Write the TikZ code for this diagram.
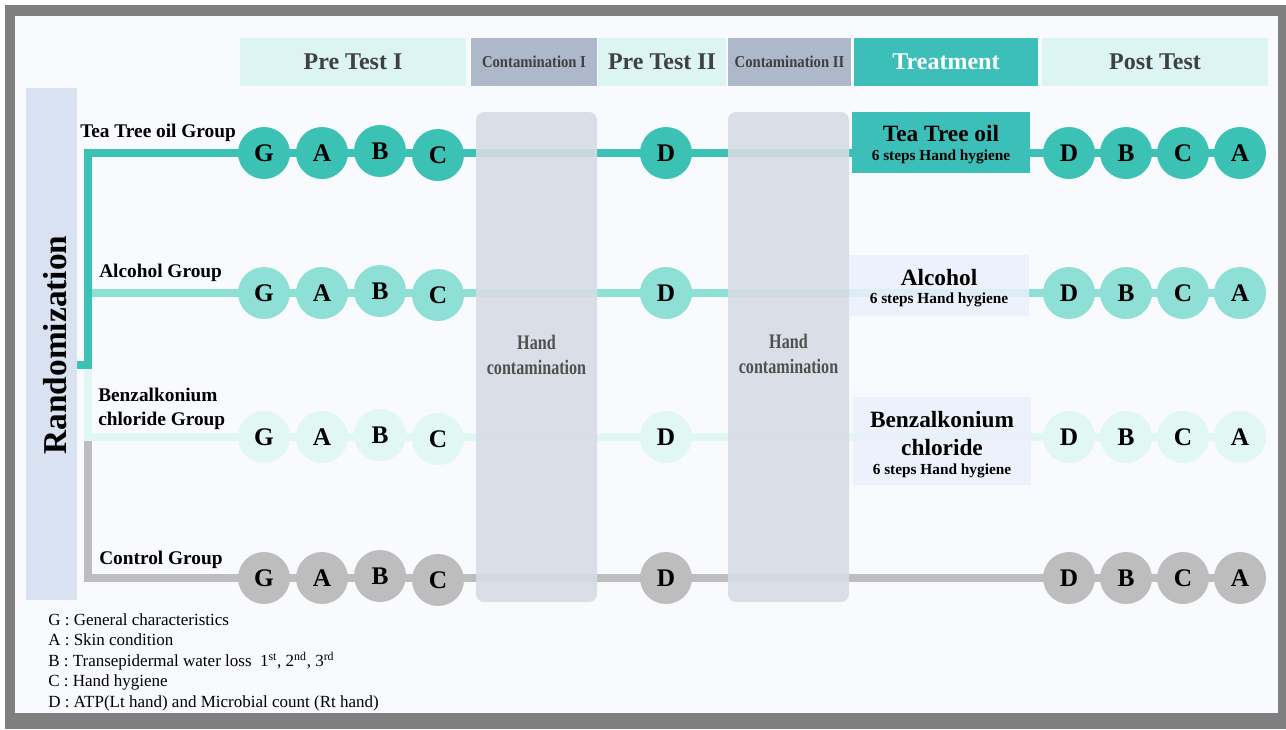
\documentclass[tikz,border=0pt]{standalone}
\usepackage{fontspec}
\setmainfont{Liberation Serif}
\usepackage{graphicx}
\pgfdeclarelayer{back}
\pgfdeclarelayer{bg}
\pgfsetlayers{back,bg,main}
\definecolor{frame}{HTML}{7F7F7F}
\definecolor{canvas}{HTML}{F9FAFD}
\definecolor{mint}{HTML}{DDF5F2}
\definecolor{contam}{HTML}{ADB9CB}
\definecolor{teal}{HTML}{3CBFB8}
\definecolor{cA}{HTML}{3CC2B5}
\definecolor{cB}{HTML}{8EDFD6}
\definecolor{cC}{HTML}{E0F7F3}
\definecolor{cD}{HTML}{BDBDBD}
\definecolor{handbox}{HTML}{D7DCE4}
\definecolor{lav}{HTML}{EAF0FB}
\definecolor{randbar}{HTML}{D9E2F1}
\definecolor{hdrtxt}{HTML}{404040}
\definecolor{handtxt}{HTML}{505050}
\newcommand{\handtext}{\scalebox{0.78}[1]{\bfseries\begin{tabular}{@{}c@{}}\bfseries Hand\\[0.5pt]\bfseries contamination\end{tabular}}}
\begin{document}
\begin{tikzpicture}[x=0.75pt,y=-0.75pt,
  wh/.style 2 args={minimum width=#1*0.75pt, minimum height=#2*0.75pt, inner sep=0pt, outer sep=0pt},
  hdr/.style={font=\fontsize{18}{20}\selectfont\bfseries, text=hdrtxt},
  circ/.style={circle, minimum size=39pt, inner sep=0pt, font=\fontsize{19}{20}\selectfont\bfseries},
  grp/.style={font=\fontsize{14.5}{18}\selectfont\bfseries, anchor=west, align=left, inner sep=0pt},
  trt/.style={font=\fontsize{17.5}{21}\selectfont\bfseries, inner sep=0pt},
  sub/.style={font=\fontsize{11.5}{13}\selectfont\bfseries, inner sep=0pt},
  hand/.style={text=handtxt, font=\fontsize{15.5}{18.5}\selectfont\bfseries, inner sep=0pt},
  lane/.style={line width=6pt, line join=miter}
]
\useasboundingbox (0,0) rectangle (1286,729);
\begin{pgfonlayer}{back}
\fill[white] (0,0) rectangle (1286,729);
\fill[frame] (5,5) rectangle (1286,729);
\fill[canvas] (15,16) rectangle (1278,713);
\end{pgfonlayer}

% header row
\node[hdr, wh={226}{48}, fill=mint] (pt1) at (353,62) {Pre Test I};
\node[wh={126}{48}, fill=contam, text=hdrtxt, font=\fontsize{12.5}{14}\selectfont\bfseries] (con1) at (534,62) {\scalebox{0.88}[1]{Contamination I}};
\node[hdr, wh={128}{48}, fill=mint] (pt2) at (662,62) {Pre Test II};
\node[wh={123}{48}, fill=contam, text=hdrtxt, font=\fontsize{12.5}{14}\selectfont\bfseries] (con2) at (789.5,62) {\scalebox{0.88}[1]{Contamination II}};
\node[hdr, wh={184}{48}, fill=teal, text=white] (trt) at (946,62) {Treatment};
\node[hdr, wh={226}{48}, fill=mint] (post) at (1155,62) {Post Test};

% randomization bar
\node[wh={51}{512}, fill=randbar] (rand) at (51.5,344) {};
\node[rotate=90, font=\fontsize{25}{28}\selectfont\bfseries, inner sep=0pt] (randtxt) at (55,345) {Randomization};

% hand contamination boxes
\node[wh={121}{490}, fill=handbox, fill opacity=0.9, text opacity=1, rounded corners=6pt] (hc1) at (536.5,357) {};
\node[hand] (hc1t) at (536.5,357) {\handtext};
\node[wh={121}{490}, fill=handbox, fill opacity=0.9, text opacity=1, rounded corners=6pt] (hc2) at (788.5,357) {};
\node[hand] (hc2t) at (788.5,356) {\handtext};

% group labels
\node[grp] (g1) at (80,133) {Tea Tree oil Group};
\node[grp] (g2) at (99,273) {Alcohol Group};
\node[grp] (g3) at (98,409) {Benzalkonium\\chloride Group};
\node[grp] (g4) at (99,560) {Control Group};

% treatment boxes
\node[wh={178}{61}, fill=teal] (ttb) at (941,142.5) {};
\node[trt] (ttbt) at (941,134) {Tea Tree oil};
\node[sub] (ttbs) at (941,157) {6 steps Hand hygiene};
\node[wh={180}{61}, fill=lav, fill opacity=0.85] (alb) at (939,285.5) {};
\node[trt] (albt) at (939,278) {Alcohol};
\node[sub] (albs) at (939,300) {6 steps Hand hygiene};
\node[wh={178}{88}, fill=lav, fill opacity=0.85] (bzb) at (942,441) {};
\node[trt] (bzbt) at (942,420) {Benzalkonium};
\node[trt] (bzbt2) at (942,448) {chloride};
\node[sub] (bzbs) at (942,471) {6 steps Hand hygiene};

% circles
\foreach \r/\y/\c in {1/153/cA,2/293/cB,3/437/cC,4/578/cD}{
  \foreach \i/\x/\dy/\l in {1/264/0/G,2/322/0/A,3/380/-2/B,4/438/2/C,5/666/0/D,6/1069/0/D,7/1126/0/B,8/1183/0/C,9/1240/0/A}{
    \node[circ, fill=\c] (r\r-\i) at (\x,\y+\dy) {\l};
  }
}

% branch coordinates
\coordinate (rs) at (77,365);
\coordinate (jm) at (88,365);
\coordinate (j1) at (88,153);
\coordinate (j2) at (88,293);
\coordinate (j3) at (88,437);
\coordinate (j4) at (88,578);

\begin{pgfonlayer}{bg}
\draw[lane, cD] (j3) -- (j4) -- (r4-9.center);
\draw[lane, cC] (jm) -- (j3) -- (r3-9.center);
\draw[lane, cB] (j2) -- (r2-9.center);
\draw[lane, cA] (rs) -- (jm) -- (j1) -- (r1-9.center);
\end{pgfonlayer}

% legend
\node[anchor=north west, align=left, inner sep=0pt, font=\fontsize{12.75}{15.4}\selectfont] (legend) at (48,613)
{G : General characteristics\\
A : Skin condition\\
B : Transepidermal water loss\ \ 1\textsuperscript{st}, 2\textsuperscript{nd}, 3\textsuperscript{rd}\\
C : Hand hygiene\\
D : ATP(Lt hand) and Microbial count (Rt hand)};
\end{tikzpicture}
\end{document}
